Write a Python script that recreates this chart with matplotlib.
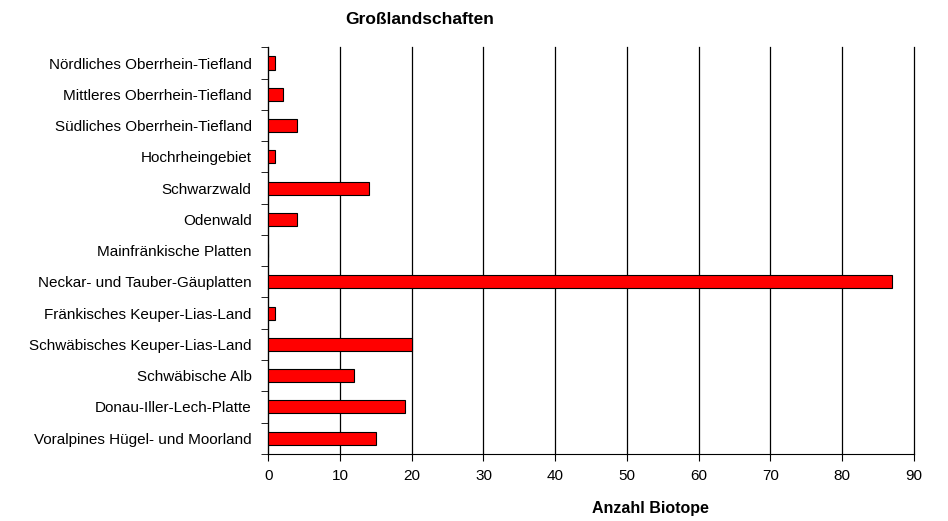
import matplotlib.pyplot as plt
import numpy as np

plt.rcParams['font.family'] = ['Liberation Sans', 'DejaVu Sans']

regions = ["Nördliches Oberrhein-Tiefland", "Mittleres Oberrhein-Tiefland",
           "Südliches Oberrhein-Tiefland", "Hochrheingebiet", "Schwarzwald",
           "Odenwald", "Mainfränkische Platten", "Neckar- und Tauber-Gäuplatten",
           "Fränkisches Keuper-Lias-Land", "Schwäbisches Keuper-Lias-Land",
           "Schwäbische Alb", "Donau-Iller-Lech-Platte",
           "Voralpines Hügel- und Moorland"]
counts = [1, 2, 4, 1, 14, 4, 0, 87, 1, 20, 12, 19, 15]

fig = plt.figure(figsize=(9.48, 5.21), dpi=100)
ax = fig.add_axes([0.283, 0.129, 0.681, 0.78])

y = np.arange(len(regions))[::-1]
ax.barh(y, counts, height=0.42, color='#ff0000', edgecolor='black', linewidth=0.8, zorder=3)

ax.set_xlim(0, 90)
ax.set_ylim(-0.5, len(regions) - 0.5)
ax.set_xticks(np.arange(0, 91, 10))
ax.set_yticks(y)
ax.set_yticklabels(regions, fontsize=11)
ax.set_yticks(np.arange(-0.5, len(regions), 1), minor=True)
ax.tick_params(axis='y', which='major', length=0, pad=12)
ax.tick_params(axis='y', which='minor', length=5, direction='out')
ax.tick_params(axis='x', length=5, direction='out', labelsize=11, pad=6)
ax.xaxis.grid(True, color='black', linewidth=0.9, zorder=0)
for gl in ax.get_xgridlines():
    gl.set_clip_on(False)
ax.spines['top'].set_visible(False)
ax.spines['right'].set_visible(False)

fig.text(420 / 948, 1 - 20 / 521, "Großlandschaften", fontsize=12.5, fontweight='bold',
         ha='center', va='center')
fig.text(650 / 948, 1 - 509 / 521, "Anzahl Biotope", fontsize=11.5, fontweight='bold',
         ha='center', va='center')

fig.savefig('out.png', dpi=100)
